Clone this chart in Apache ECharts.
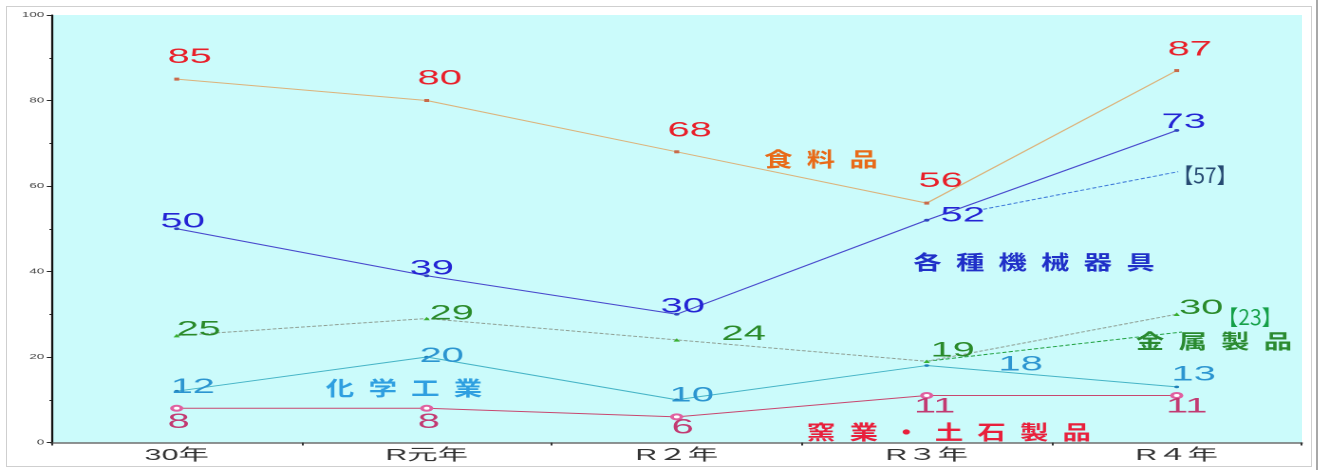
<!DOCTYPE html>
<html>
<head>
<meta charset="utf-8">
<title>業種別 推移</title>
<script src="https://cdn.jsdelivr.net/npm/echarts@6/dist/echarts.min.js"></script>
<style>
  html, body { margin: 0; padding: 0; background: #ffffff; overflow: hidden; }
  #stage { position: relative; width: 1329px; height: 470px; overflow: hidden; }
  #plotbg { position: absolute; left: 52px; top: 15px; width: 1250px; height: 428px; background: #cbfbfb; }
  #chart { position: absolute; left: 0; top: 0; width: 700px; height: 470px; transform-origin: 0 0; }
  #frame { position: absolute; left: 6px; top: 6px; width: 1306px; height: 461px; border: 1px solid #cfcfcf; box-sizing: border-box; pointer-events: none; }
  #edge { position: absolute; left: 1316px; top: 0; width: 2px; height: 470px; background: #a8a8a8; }
</style>
</head>
<body>
<div id="stage">
  <div id="plotbg"></div>
  <div id="chart"></div>
  <div id="frame"></div>
  <div id="edge"></div>
</div>
<script>
// categories and series values
const categories = ['30年', 'R元年', 'R２年', 'R３年', 'R４年'];
const food       = [85, 80, 68, 56, 87];
const machinery  = [50, 39, 30, 52, 73];
const metal      = [25, 29, 24, 19, 30];
const chemical   = [12, 20, 10, 18, 13];
const ceramics   = [8, 8, 6, 11, 11];
const yTickValues = [0, 20, 40, 60, 80, 100];
// bracketed side notes for the latest year
const machineryNote = 57;
const metalNote = 23;

// the drawing is rendered narrow and stretched horizontally
const W = 700;
const S = 1329 / W;
const el = document.getElementById('chart');
el.style.transform = 'scaleX(' + S + ')';

const NUM_FONT = "'Liberation Sans', Arial, sans-serif";
const JP_FONT = "'Liberation Sans', 'Noto Sans CJK JP', sans-serif";

// label nudges per point (dx in stretched pixels, dy in pixels)
function nudged(values, moves) {
  return values.map((v, i) => ({
    value: v,
    label: { offset: [moves[i][0] / S, moves[i][1]] }
  }));
}

function lineSeries(name, values, moves, o) {
  return {
    name: name,
    type: 'line',
    xAxisIndex: 0,
    yAxisIndex: 0,
    data: nudged(values, moves),
    symbol: o.symbol,
    symbolSize: o.symbolSize,
    showSymbol: true,
    lineStyle: { color: o.line, width: 1, type: o.lineType || 'solid' },
    itemStyle: o.item,
    label: {
      show: true,
      position: 'inside',
      color: o.text,
      fontSize: 21,
      fontFamily: NUM_FONT,
      formatter: '{c}'
    },
    emphasis: { disabled: true },
    z: o.z || 3
  };
}

function guideSeries(points, color) {
  return {
    type: 'line',
    xAxisIndex: 1,
    yAxisIndex: 0,
    data: points,
    symbol: 'none',
    lineStyle: { color: color, width: 1, type: [2.2, 1.2] },
    emphasis: { disabled: true },
    silent: true,
    z: 2
  };
}

const chart = echarts.init(el, null, { renderer: 'canvas', devicePixelRatio: 2 });

chart.setOption({
  animation: false,
  backgroundColor: 'transparent',
  grid: {
    left: 51.7 / S,
    right: W - 1301.7 / S,
    top: 15,
    bottom: 470 - 442.5,
    show: false
  },
  xAxis: [
    {
      type: 'category',
      data: categories,
      boundaryGap: true,
      axisLine: { lineStyle: { color: '#6e6e6e', width: 1.5 } },
      axisTick: { show: true, length: 3, lineStyle: { color: '#333', width: 1 } },
      axisLabel: { fontSize: 16, color: '#333', margin: 5, fontFamily: JP_FONT },
      splitLine: { show: false }
    },
    { type: 'value', min: -0.5, max: 4.5, show: false }
  ],
  yAxis: {
    type: 'value',
    min: yTickValues[0],
    max: yTickValues[yTickValues.length - 1],
    interval: yTickValues[1] - yTickValues[0],
    axisLine: { show: true, onZero: false, lineStyle: { color: '#111', width: 1.1 } },
    axisTick: { show: true, length: 2.6, lineStyle: { color: '#222' } },
    minorTick: { show: true, splitNumber: 2, length: 1.2, lineStyle: { color: '#222' } },
    axisLabel: { fontSize: 7, color: '#444', margin: 4, fontFamily: NUM_FONT },
    splitLine: { show: false }
  },
  series: [
    guideSeries([[3.226, 54.55], [4.006, 63.35]], '#3c78d8'),
    guideSeries([[3.0, 19.0], [4.021, 25.85]], '#1fa040'),
    lineSeries('窯業・土石製品', ceramics,
      [[2, 14], [2, 14], [6, 11], [8, 11], [10, 11]],
      { symbol: 'emptyCircle', symbolSize: 5, line: '#c8476f', text: '#c23a72',
        item: { color: '#e060a0', borderColor: '#e060a0', borderWidth: 0.8 } }),
    lineSeries('化学工業', chemical,
      [[16, -4], [15, -1], [15, -4], [94, -1], [17, -12]],
      { symbol: 'circle', symbolSize: 2.6, line: '#46b4c6', text: '#2c95d0',
        item: { color: '#1f80b8' } }),
    lineSeries('金属製品', metal,
      [[22, -6], [25, -5], [67, -5.5], [26, -10.5], [24.5, -6]],
      { symbol: 'triangle', symbolSize: 3.4, line: '#8f9f94', lineType: [2, 1], text: '#2a8a2a',
        item: { color: '#38b030' } }),
    lineSeries('各種機械器具', machinery,
      [[6, -7], [5, -7], [6, -7.5], [36, -4.5], [7, -8]],
      { symbol: 'circle', symbolSize: 2.8, line: '#4848cc', text: '#2424d4',
        item: { color: '#3046c0' } }),
    lineSeries('食料品', food,
      [[13, -22], [13, -22], [13, -21], [14, -22], [13, -21]],
      { symbol: 'rect', symbolSize: [2.6, 3], line: '#dcb27a', text: '#e8202a',
        item: { color: '#c86a4a' } })
  ]
});

// series names and side notes, anchored in plot coordinates
const seriesNames = [
  { text: '食料品',         at: [2.577, 66.3],  color: '#e86a18' },
  { text: '各種機械器具',   at: [3.429, 42.2],  color: '#2030c8' },
  { text: '金属製品',       at: [4.149, 23.74], color: '#2a8a30' },
  { text: '化学工業',       at: [0.909, 12.75], color: '#2f9fe0' },
  { text: '窯業・土石製品', at: [3.089, 2.46],  color: '#e8203c' }
];
const notes = [
  { text: '【' + machineryNote + '】', at: [4.113, 62.57], color: '#274a72' },
  { text: '【' + metalNote + '】',     at: [4.293, 29.36], color: '#15a048' }
];

function toPx(p) {
  return chart.convertToPixel({ xAxisIndex: 1, yAxisIndex: 0 }, p);
}

const graphics = [];
seriesNames.forEach(n => {
  const p = toPx(n.at);
  graphics.push({
    type: 'text',
    x: p[0], y: p[1],
    scaleX: 1.42 / S,
    silent: true,
    z: 10,
    style: {
      text: n.text.split('').join('\u2002'),
      fill: n.color,
      fontSize: 20,
      fontWeight: 'bold',
      fontFamily: "'Noto Sans CJK JP', sans-serif",
      align: 'center', verticalAlign: 'middle',
      textAlign: 'center', textVerticalAlign: 'middle'
    }
  });
});
notes.forEach(n => {
  const p = toPx(n.at);
  graphics.push({
    type: 'text',
    x: p[0], y: p[1],
    scaleX: 1 / S,
    silent: true,
    z: 10,
    style: {
      text: n.text,
      fill: n.color,
      fontSize: 21,
      fontFamily: "'Noto Sans CJK JP', sans-serif",
      align: 'center', verticalAlign: 'middle',
      textAlign: 'center', textVerticalAlign: 'middle'
    }
  });
});
chart.setOption({ graphic: graphics });
</script>
</body>
</html>
